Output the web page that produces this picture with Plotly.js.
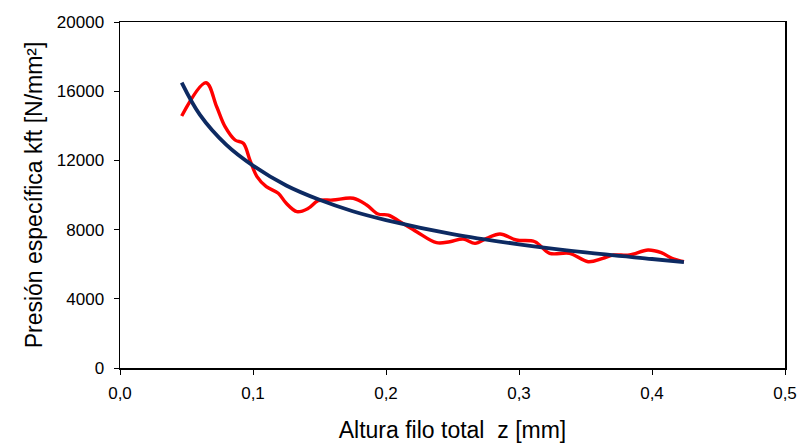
<!DOCTYPE html>
<html>
<head>
<meta charset="utf-8">
<script src="https://cdn.plot.ly/plotly-3.0.1.min.js"></script>
<style>html,body{margin:0;padding:0;background:#fff;}#chart{width:802px;height:448px;}</style>
</head>
<body>
<div id="chart"></div>
<script>
// Measured specific pressure (red)
const measZ = [0.0464, 0.0647, 0.0727, 0.079, 0.0865, 0.0927, 0.0977, 0.103, 0.110, 0.119, 0.125, 0.133, 0.1416, 0.149, 0.160, 0.1754, 0.1855, 0.194, 0.2018, 0.2105, 0.223, 0.238, 0.248, 0.258, 0.267, 0.2757, 0.2857, 0.298, 0.312, 0.323, 0.338, 0.352, 0.363, 0.371, 0.383, 0.397, 0.407, 0.415, 0.424];
const measK = [14570, 16490, 15100, 13950, 13180, 12990, 12020, 11060, 10480, 10100, 9520, 9035, 9230, 9670, 9710, 9810, 9420, 8900, 8840, 8460, 7880, 7245, 7300, 7455, 7205, 7495, 7750, 7400, 7300, 6630, 6630, 6145, 6340, 6530, 6530, 6820, 6665, 6340, 6145];
// Trend curve (dark blue)
const trendZ = [0.0464, 0.06, 0.08, 0.1, 0.125, 0.15, 0.175, 0.2, 0.25, 0.3, 0.35, 0.4, 0.424];
const trendK = [16500, 14650, 12900, 11700, 10550, 9720, 9060, 8550, 7740, 7150, 6680, 6300, 6120];
const xTitle = 'Altura filo total  z [mm]';
const yTitle = 'Presión específica kft [N/mm²]';

const font = 'Liberation Sans, Arial, sans-serif';
const data = [
  {x: measZ, y: measK, mode: 'lines', line: {color: '#ff0000', width: 3.4, shape: 'spline', smoothing: 1}, hoverinfo: 'skip'},
  {x: trendZ, y: trendK, mode: 'lines', line: {color: '#0d2a62', width: 3.8, shape: 'spline', smoothing: 1}, hoverinfo: 'skip'}
];
const layout = {
  width: 802, height: 448,
  margin: {l: 120, r: 17, t: 22, b: 80},
  paper_bgcolor: '#fff', plot_bgcolor: '#fff',
  showlegend: false,
  separators: ',.',
  font: {family: font, color: '#000', size: 17},
  xaxis: {
    range: [0, 0.5], dtick: 0.1, tick0: 0, tickformat: '.1f',
    showgrid: false, zeroline: false,
    showline: true, linecolor: '#000', linewidth: 1.5, mirror: true,
    ticks: 'outside', ticklen: 5, tickcolor: '#000', ticklabelstandoff: 4,
    tickfont: {size: 17, family: font},
    title: {text: xTitle, font: {size: 23, family: font}, standoff: 20}
  },
  yaxis: {
    range: [0, 20000], dtick: 4000, tick0: 0, tickformat: 'd',
    showgrid: false, zeroline: false,
    showline: true, linecolor: '#000', linewidth: 1.5, mirror: true,
    ticks: 'outside', ticklen: 5, tickcolor: '#000', ticklabelstandoff: 6,
    tickfont: {size: 17, family: font},
    title: {text: yTitle, font: {size: 23, family: font}, standoff: 8}
  }
};
Plotly.newPlot('chart', data, layout, {displayModeBar: false, staticPlot: true});
</script>
</body>
</html>
